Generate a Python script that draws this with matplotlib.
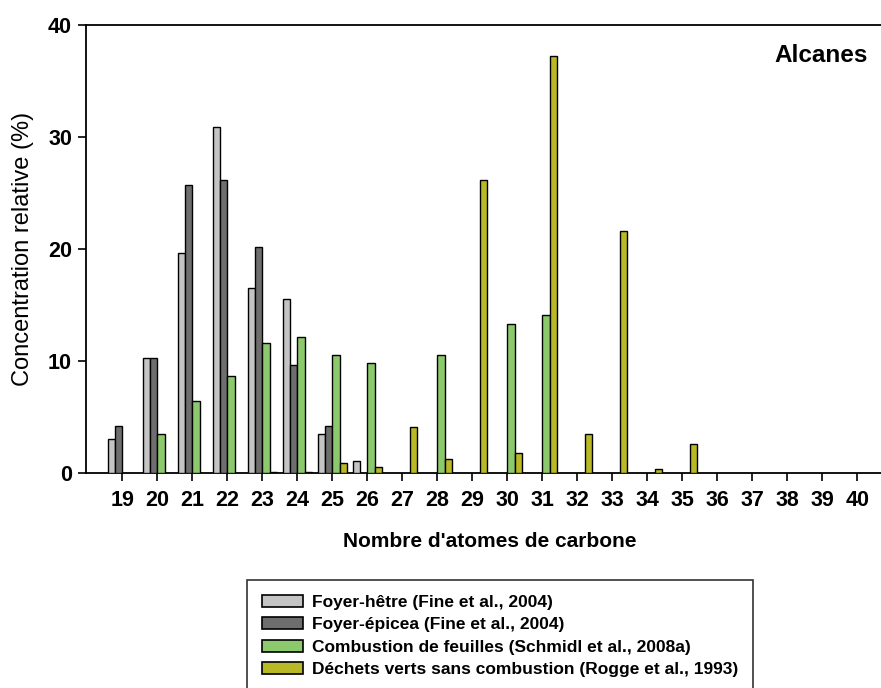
import numpy as np
import matplotlib
matplotlib.use("Agg")
import matplotlib.pyplot as plt
from matplotlib.patches import Patch

plt.rcParams['font.family'] = ['Liberation Sans', 'DejaVu Sans']

carbons = list(range(19, 41))
labels = ["Foyer-hêtre (Fine et al., 2004)",
          "Foyer-épicea (Fine et al., 2004)",
          "Combustion de feuilles (Schmidl et al., 2008a)",
          "Déchets verts sans combustion (Rogge et al., 1993)"]

#          19    20    21    22    23    24    25   26   27   28   29   30   31   32   33   34   35   36 37 38 39 40
hetre   = [3.0, 10.3, 19.6, 30.9, 16.5, 15.5, 3.45, 1.1, 0, 0, 0, 0, 0, 0, 0, 0, 0, 0, 0, 0, 0, 0]
epicea  = [4.2, 10.3, 25.7, 26.2, 20.2,  9.6, 4.2, 0, 0, 0, 0, 0, 0, 0, 0, 0, 0, 0, 0, 0, 0, 0]
feuilles = [0, 3.45, 6.4, 8.7, 11.6, 12.1, 10.5, 9.8, 0, 10.5, 0, 13.3, 14.1, 0, 0, 0, 0, 0, 0, 0, 0, 0]
dechets = [0, 0, 0, 0, 0.1, 0.1, 0.87, 0.56, 4.1, 1.28, 26.2, 1.8, 37.2, 3.5, 21.6, 0.4, 2.6, 0, 0, 0, 0, 0]

colors = ["#c4c4c4", "#6e6e6e", "#8cc96c", "#b9b826"]
series = [hetre, epicea, feuilles, dechets]

fig = plt.figure(figsize=(8.81, 6.88), dpi=100)
ax = fig.add_axes([86/881, 1 - 473/688, 1 - 86/881, 448/688])

x = np.arange(len(carbons))
w = 0.21
offsets = [-1.5, -0.5, 0.5, 1.5]
handles = []
for vals, col, off, lab in zip(series, colors, offsets, labels):
    vals = np.array(vals, dtype=float)
    mask = vals > 0
    ax.bar(x[mask] + off * w, vals[mask], width=w, color=col,
           edgecolor="black", linewidth=1.0, zorder=3)
    handles.append(Patch(facecolor=col, edgecolor="black", linewidth=1.2, label=lab))

ax.set_xlim((86 - 122.3) / 35.0, (881 - 122.3) / 35.0)
ax.set_ylim(0, 40)
ax.set_xticks(x)
ax.set_xticklabels([str(c) for c in carbons], fontsize=15.5, fontweight='bold')
ax.set_yticks([0, 10, 20, 30, 40])
ax.set_yticklabels(["0", "10", "20", "30", "40"], fontsize=15.5, fontweight='bold')
ax.tick_params(axis='both', direction='out', length=6, width=1.2, color='black')
ax.tick_params(axis='x', pad=6)
ax.tick_params(axis='y', pad=4)
for s in ['top', 'left', 'bottom']:
    ax.spines[s].set_linewidth(1.3)
ax.spines['right'].set_visible(False)

ax.set_ylabel("Concentration relative (%)", fontsize=17, labelpad=10)
ax.set_xlabel("Nombre d'atomes de carbone", fontsize=15, fontweight='bold')
ax.xaxis.set_label_coords((490 - 86) / 795, -(532 - 473) / 448)

ax.text(0.9245, 0.933, "Alcanes", transform=ax.transAxes, fontsize=17.5,
        fontweight='bold', ha='center', va='center')

leg = fig.legend(handles=handles, loc='upper left',
                 bbox_to_anchor=(247/881, 1 - 580/688),
                 prop={'weight': 'bold', 'size': 12.5},
                 frameon=True, fancybox=False, edgecolor='black',
                 handlelength=2.4, handleheight=0.7, labelspacing=0.42,
                 borderpad=0.85, handletextpad=0.5, borderaxespad=0)
leg.get_frame().set_linewidth(1.2)

fig.savefig("out.png", dpi=100)
